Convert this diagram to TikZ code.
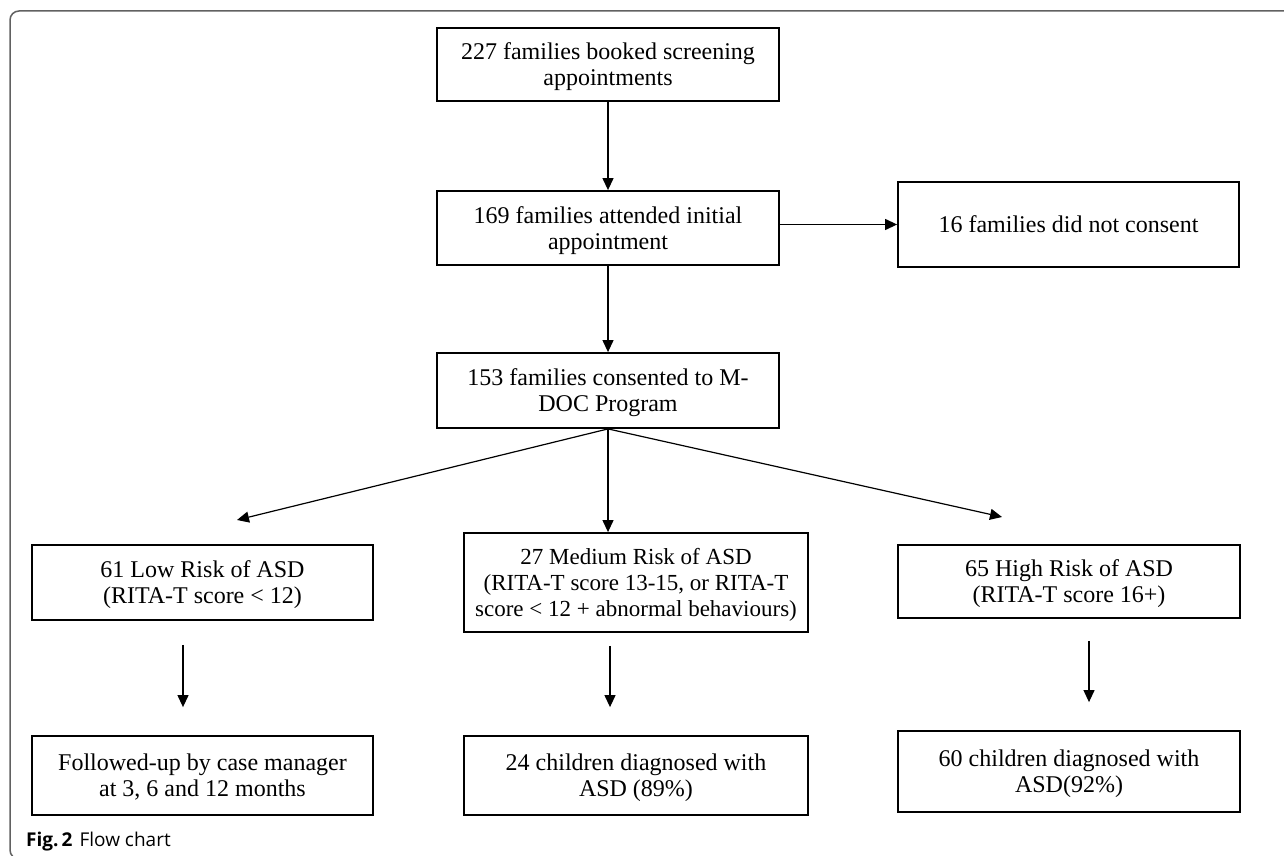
\documentclass[tikz,border=0pt]{standalone}
\usepackage{fontspec}
\setmainfont{Liberation Serif}
\newfontfamily\capfont{Open Sans}
\usetikzlibrary{arrows.meta}

\begin{document}
\begin{tikzpicture}[
            x=1pt, y=-1pt,
            box/.style={draw, line width=1.8pt, align=center, inner sep=0pt, text depth=0pt,
                font=\fontsize{24}{26}\selectfont},
            arr/.style={line width=1.2pt, -{Triangle[length=12pt,width=11pt]}},
            frame/.style={line width=1.5pt, draw=black!62, rounded corners=9pt},
            ]
            \useasboundingbox (0,0) rectangle (1284,856);
            \draw[frame] (40,859) -- (10,859) -- (10,11) -- (1300,11);

            \node[box, minimum width=342pt, minimum height=73pt] (book) at (608,64.5) {227 families booked screening\\appointments};
            \node[box, minimum width=342pt, minimum height=74pt] (attend) at (608,228) {169 families attended initial\\appointment};
            \node[box, minimum width=341pt, minimum height=85pt] (nocons) at (1068.5,224.5) {16 families did not consent};
            \node[box, minimum width=342pt, minimum height=75pt] (consent) at (608,390.5) {153 families consented to M-\\DOC Program};

            \node[box, minimum width=341pt, minimum height=75pt] (low) at (202.5,582.5) {61 Low Risk of ASD\\(RITA-T score < 12)};
            \node[box, minimum width=344pt, minimum height=99pt, font=\fontsize{23}{26}\selectfont] (med) at (636,582.5) {27 Medium Risk of ASD\\(RITA-T score 13-15, or RITA-T\\score < 12 + abnormal behaviours)};
            \node[box, minimum width=342pt, minimum height=73pt] (high) at (1069,581.5) {65 High Risk of ASD\\(RITA-T score 16+)};

            \node[box, minimum width=341pt, minimum height=79pt] (follow) at (202.5,775.5) {Followed-up by case manager\\at 3, 6 and 12 months};
            \node[box, minimum width=344pt, minimum height=79pt] (dx24) at (636,775.5) {24 children diagnosed with\\ASD (89\%)};
            \node[box, minimum width=342pt, minimum height=81pt] (dx60) at (1069,771.5) {60 children diagnosed with\\ASD(92\%)};

            \coordinate (lowtip) at (237,520);
            \coordinate (hightip) at (1002,517);

            \draw[arr] (book) -- (attend);
            \draw[arr] (attend.east |- nocons.west) -- (nocons.west);
            \draw[arr] (attend) -- (consent);
            \draw[arr] (consent.south) -- (lowtip);
            \draw[arr] (consent.south) -- (consent.south |- med.north);
            \draw[arr] (consent.south) -- (hightip);
            \draw[arr, shorten <=24pt, shorten >=28pt] ([xshift=-19.5pt]low.south) -- ([xshift=-19.5pt]follow.north);
            \draw[arr, shorten <=13pt, shorten >=28pt] ([xshift=-26pt]med.south) -- ([xshift=-26pt]dx24.north);
            \draw[arr, shorten <=22pt, shorten >=28pt] ([xshift=20pt]high.south) -- ([xshift=20pt]dx60.north);

            \node[anchor=base west, inner sep=0pt, font=\capfont\fontsize{19}{21}\selectfont] (cap) at (26,846) {\textbf{Fig.\,2}\hspace{7pt}Flow chart};
        \end{tikzpicture}
\end{document}
